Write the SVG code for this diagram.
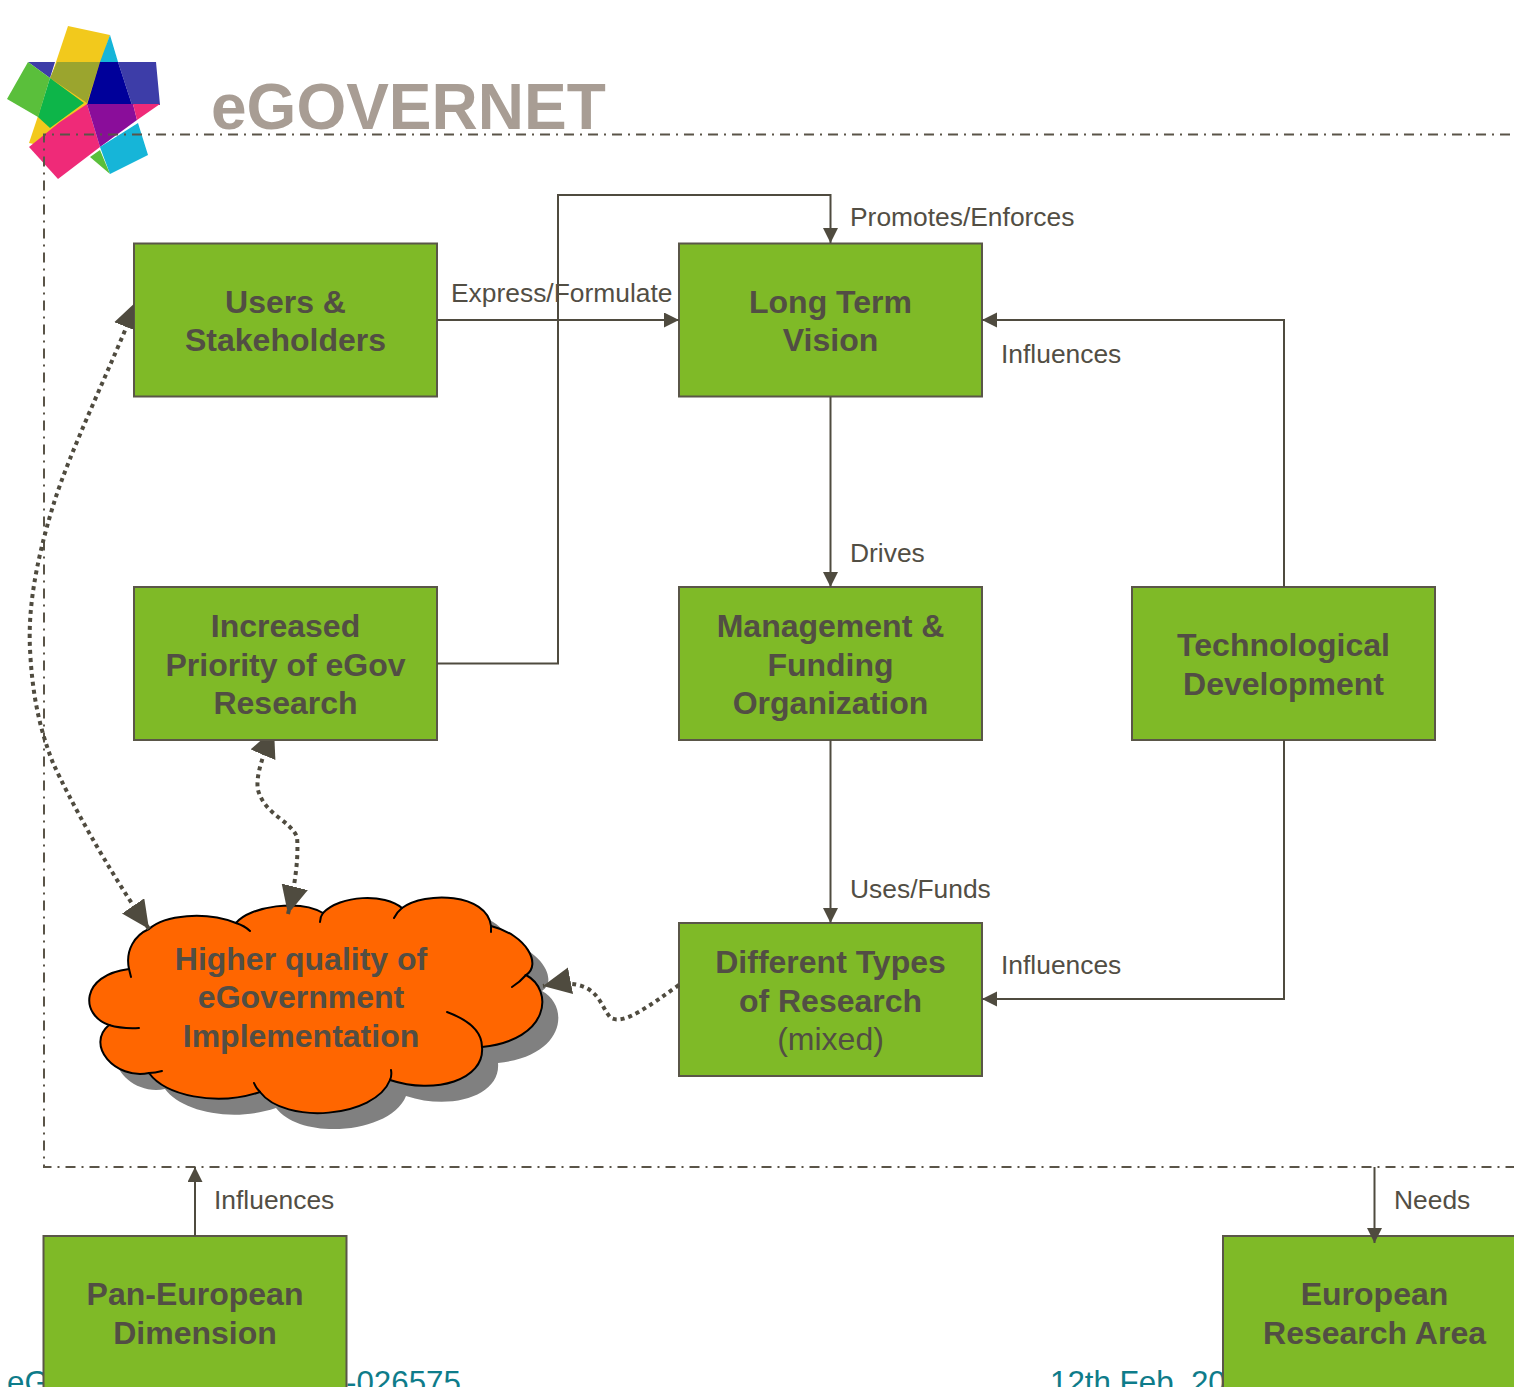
<svg xmlns="http://www.w3.org/2000/svg" width="1514" height="1387" viewBox="0 0 1514 1387">
<style>
text{font-family:"Liberation Sans",Arial,sans-serif;fill:#524e44}
.n{fill:#7fba27;stroke:#5a5648;stroke-width:2}
.t{font-size:32px;font-weight:bold;text-anchor:middle}
.m{font-size:32px;text-anchor:middle}
.l{font-size:26.4px}
.c{fill:none;stroke:#4f4b3f;stroke-width:2}
.d{fill:none;stroke:#4f4b3f;stroke-width:4;stroke-dasharray:4 4}
.b{fill:none;stroke:#5a5448;stroke-width:2;stroke-dasharray:10 6 2 6}
.f{font-size:31.3px;fill:#0e7c8a}
.cl{fill:#f60;stroke:#000;stroke-width:2}
.ci{fill:none;stroke:#000;stroke-width:2;stroke-linecap:round}
</style>
<defs>
<marker id="a" markerUnits="userSpaceOnUse" markerWidth="16" markerHeight="16" refX="15" refY="7.5" orient="auto"><path d="M0 0L15 7.5L0 15Z" fill="#4f4b3f"/></marker>
<marker id="g" markerUnits="userSpaceOnUse" markerWidth="30" markerHeight="30" refX="28" refY="13.5" orient="auto-start-reverse"><path d="M0 0L28 13.5L0 27Z" fill="#4f4b3f"/></marker>
<filter id="s" x="-5%" y="-5%" width="110%" height="110%"><feGaussianBlur stdDeviation="0.7"/></filter>
<clipPath id="leftOfBox"><path d="M0 0H134V500H1514V1387H0Z"/></clipPath>
<clipPath id="belowBox"><path d="M0 741H1514V1387H0Z"/></clipPath>
<path id="cloud" d="M149 929C165 915 205 911 236 923C250 906 300 899 323 913C340 895 385 893 402 908C425 891 487 893 491 926C527 935 542 965 526 975C554 990 550 1040 482 1047C485 1080 435 1095 390 1080C375 1118 285 1125 260 1092C215 1107 165 1095 149 1073C115 1080 85 1045 109 1025C80 1015 80 975 129 969C125 950 135 935 149 929Z"/>
</defs>
<g id="logo" filter="url(#s)">
<path fill="#f2c91e" d="M68 26L110 35L88 103L60 150L29 143Z"/>
<path fill="#3d3da8" d="M28 62L156 62L160 105L132 105L118 62Z"/>
<path fill="#3d3da8" d="M28 62L55 62L50 78Z"/>
<path fill="#9ba52d" d="M57 62L100 62L87 103L50 78Z"/>
<path fill="#00009a" d="M100 62L118 62L132 105L87 105Z"/>
<path fill="#12b5d8" d="M110 35L118 62L100 62Z"/>
<path fill="#5abf3a" d="M28 62L7 99L38 117L50 78Z"/>
<path fill="#0fb54a" d="M50 78L84 103L50 128L38 117Z"/>
<path fill="#ef2a78" d="M87 104L60 122L29 147L58 179L100 147Z"/>
<path fill="#8a0a9a" d="M87 104L133 104L137 120L100 147Z"/>
<path fill="#ef2a78" d="M133 104L160 104L137 120Z"/>
<path fill="#12b5d8" d="M138 123L148 155L110 174L100 147Z"/>
<path fill="#5abf3a" d="M90 157L100 150L110 174Z"/>
</g>
<text id="title" x="211" y="129" style="font-size:64px;font-weight:bold;fill:#a89d94">eGOVERNET</text>
<g id="footer">
<text class="f" x="7" y="1393">eG</text>
<text class="f" x="346" y="1393">-026575</text>
<text class="f" x="1050" y="1393">12th Feb. 20</text>
</g>
<g id="frame">
<path class="b" d="M1510 134.500H44V1167H1514"/>
</g>
<g id="cloud-node">
<use href="#cloud" fill="#808080" transform="translate(16 16)"/>
<use href="#cloud" class="cl"/>
<path class="ci" d="M236 923Q245 926 250 931M323 913Q320 917 320 922M402 908Q397 912 394 918M491 926V932M526 975Q520 982 512 987M447 1012Q482 1025 482 1047M390 1080Q392 1076 391 1070M260 1092Q256 1088 254 1083M149 1073Q155 1073 162 1071M109 1025Q122 1029 139 1028M129 969Q130 973 131 977"/>
<text class="t" x="301" y="970">Higher quality of</text>
<text class="t" x="301" y="1008">eGovernment</text>
<text class="t" x="301" y="1047">Implementation</text>
</g>
<g id="users"><rect class="n" x="134" y="243.500" width="303" height="153"/><text class="t" x="285.500" y="313">Users &amp;</text><text class="t" x="285.500" y="351">Stakeholders</text></g>
<g id="vision"><rect class="n" x="679" y="243.500" width="303" height="153"/><text class="t" x="830.500" y="313">Long Term</text><text class="t" x="830.500" y="351">Vision</text></g>
<g id="priority"><rect class="n" x="134" y="587" width="303" height="153"/><text class="t" x="285.500" y="637">Increased</text><text class="t" x="285.500" y="676">Priority of eGov</text><text class="t" x="285.500" y="714">Research</text></g>
<g id="management"><rect class="n" x="679" y="587" width="303" height="153"/><text class="t" x="830.500" y="637">Management &amp;</text><text class="t" x="830.500" y="676">Funding</text><text class="t" x="830.500" y="714">Organization</text></g>
<g id="technology"><rect class="n" x="1132" y="587" width="303" height="153"/><text class="t" x="1283.500" y="656">Technological</text><text class="t" x="1283.500" y="695">Development</text></g>
<g id="research"><rect class="n" x="679" y="923" width="303" height="153"/><text class="t" x="830.500" y="973">Different Types</text><text class="t" x="830.500" y="1012">of Research</text><text class="m" x="830.500" y="1050">(mixed)</text></g>
<g id="paneuropean"><rect class="n" x="43.500" y="1236" width="303" height="170"/><text class="t" x="195" y="1305">Pan-European</text><text class="t" x="195" y="1344">Dimension</text></g>
<g id="era"><rect class="n" x="1223" y="1236" width="303" height="170"/><text class="t" x="1374.500" y="1305">European</text><text class="t" x="1374.500" y="1344">Research Area</text></g>
<g id="connectors">
<path class="c" marker-end="url(#a)" d="M437 320H679"/>
<path class="c" marker-end="url(#a)" d="M437 663.500H558V195H830.500V243"/>
<path class="c" marker-end="url(#a)" d="M830.500 397V587"/>
<path class="c" marker-end="url(#a)" d="M830.500 740V923"/>
<path class="c" marker-end="url(#a)" d="M1284 587V320H982"/>
<path class="c" marker-end="url(#a)" d="M1284 740V999H982"/>
<path class="c" marker-end="url(#a)" d="M195 1236V1167"/>
<path class="c" marker-end="url(#a)" d="M1374.500 1167V1243"/>
<path class="d" clip-path="url(#leftOfBox)" marker-start="url(#g)" marker-end="url(#g)" d="M137 301C112 365 70 450 53 506C35 565 28 610 30 649C32 690 38 725 53 763C70 800 105 865 149 929"/>
<path class="d" clip-path="url(#belowBox)" marker-start="url(#g)" marker-end="url(#g)" d="M274 729C265 750 255 775 258 790C265 815 290 820 297 837C299 860 294 890 288 914"/>
<path class="d" marker-end="url(#g)" d="M679 985C650 1005 625 1025 611 1018C598 1005 600 975 543 986"/>
</g>
<g id="labels">
<text class="l" x="451" y="302">Express/Formulate</text>
<text class="l" x="850" y="226">Promotes/Enforces</text>
<text class="l" x="1001" y="363">Influences</text>
<text class="l" x="850" y="562">Drives</text>
<text class="l" x="850" y="898">Uses/Funds</text>
<text class="l" x="1001" y="974">Influences</text>
<text class="l" x="214" y="1209">Influences</text>
<text class="l" x="1394" y="1209">Needs</text>
</g>
</svg>
